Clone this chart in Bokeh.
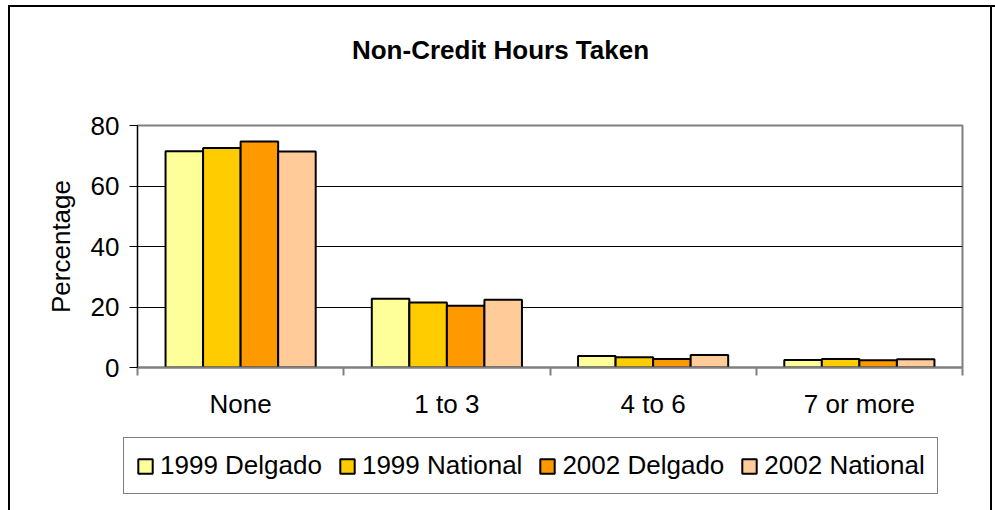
import numpy as np
from bokeh.plotting import figure
from bokeh.layouts import column
from bokeh.models import Range1d, FixedTicker, Legend, LegendItem, Label, ColumnDataSource
from bokeh.transform import dodge
from bokeh.embed import file_html
from bokeh.resources import INLINE

title_text = "Non-Credit Hours Taken"
y_label = "Percentage"
categories = ["None", "1 to 3", "4 to 6", "7 or more"]
series = ["1999 Delgado", "1999 National", "2002 Delgado", "2002 National"]
delgado_1999 = [71.5, 22.7, 3.8, 2.5]
national_1999 = [72.6, 21.5, 3.4, 2.8]
delgado_2002 = [74.7, 20.4, 2.8, 2.4]
national_2002 = [71.4, 22.4, 4.1, 2.7]
colors = ["#FFFF99", "#FFCC00", "#FF9900", "#FFCC99"]
y_ticks = [0, 20, 40, 60, 80]

FONT = "Liberation Sans"
FS = "26px"
W = 995


def blank(h, shadow):
    f = figure(width=W, height=h, x_axis_type=None, y_axis_type=None,
               toolbar_location=None, output_backend="svg", min_border=0,
               x_range=Range1d(0, 1), y_range=Range1d(0, 1))
    f.grid.visible = False
    f.outline_line_color = None
    f.border_fill_color = None
    f.background_fill_color = None
    f.styles = {"box-shadow": shadow}
    return f


SIDE = "inset -3px 0 0 0 #fff, inset -5px 0 0 0 #000"

# ---- title strip ----
pt = blank(75, "inset 8px 5px 0 0 #fff, inset 10px 7px 0 0 #000, " + SIDE)
title_label = Label(x=500, y=26, x_units="screen", y_units="screen", text=title_text,
                    text_font=FONT, text_font_size=FS, text_font_style="bold",
                    text_align="center", text_baseline="alphabetic", text_color="black")
pt.add_layout(title_label)

# ---- main chart ----
centres = np.arange(len(categories)) + 0.5
bounds = list(np.arange(len(categories) + 1).astype(float))
source = ColumnDataSource(dict(
    x=centres,
    d99=delgado_1999, n99=national_1999, d02=delgado_2002, n02=national_2002,
))

p = figure(width=W, height=355, output_backend="svg", toolbar_location=None,
           x_range=Range1d(0, len(categories)), y_range=Range1d(y_ticks[0], y_ticks[-1]),
           min_border_left=137, min_border_right=33, min_border_top=50,
           min_border_bottom=63)
p.border_fill_color = None
p.background_fill_color = "white"
p.styles = {"box-shadow": "inset 8px 0 0 0 #fff, inset 10px 0 0 0 #000, " + SIDE}
p.outline_line_color = "#808080"
p.outline_line_width = 2

bw = 0.182
offsets = [-1.5 * bw, -0.5 * bw, 0.5 * bw, 1.5 * bw]
cols = ["d99", "n99", "d02", "n02"]
for col, off, c in zip(cols, offsets, colors):
    p.vbar(x=dodge("x", off), top=col, width=bw, bottom=0, source=source,
           fill_color=c, line_color="black", line_width=2)

p.xgrid.visible = False
p.ygrid.ticker = FixedTicker(ticks=y_ticks[1:-1])
p.ygrid.grid_line_color = "black"
p.ygrid.grid_line_width = 1

p.yaxis.ticker = FixedTicker(ticks=y_ticks)
p.yaxis.axis_line_color = "black"
p.yaxis.axis_line_width = 1
p.yaxis.major_tick_line_color = "black"
p.yaxis.major_tick_out = 8
p.yaxis.major_tick_in = 0
p.yaxis.minor_tick_line_color = None
p.yaxis.major_label_text_font = FONT
p.yaxis.major_label_text_font_size = FS
p.yaxis.major_label_text_color = "black"
p.yaxis.major_label_standoff = 10
p.yaxis.axis_label = y_label
p.yaxis.axis_label_text_font = FONT
p.yaxis.axis_label_text_font_size = FS
p.yaxis.axis_label_text_font_style = "normal"
p.yaxis.axis_label_text_color = "black"
p.yaxis.axis_label_standoff = 12

p.xaxis.ticker = FixedTicker(ticks=list(centres), minor_ticks=bounds)
p.xaxis.major_label_overrides = {float(c): cat for c, cat in zip(centres, categories)}
p.xaxis.axis_line_color = "#808080"
p.xaxis.axis_line_width = 2
p.xaxis.major_tick_out = 0
p.xaxis.major_tick_in = 0
p.xaxis.major_tick_line_color = None
p.xaxis.minor_tick_line_color = "#808080"
p.xaxis.minor_tick_line_width = 2
p.xaxis.minor_tick_out = 8
p.xaxis.minor_tick_in = 0
p.xaxis.major_label_text_font = FONT
p.xaxis.major_label_text_font_size = FS
p.xaxis.major_label_text_color = "black"
p.xaxis.major_label_standoff = 13

# ---- legend strip (hidden copies of the bar renderers, only the key shows) ----
pl = blank(80, "inset 8px 0 0 0 #fff, inset 10px 0 0 0 #000, " + SIDE)
swatches = []
for col, off, c in zip(cols, offsets, colors):
    r = pl.vbar(x=dodge("x", off), top=col, width=bw, bottom=0, source=source,
                fill_color=c, line_color="black", line_width=2)
    r.visible = False
    swatches.append(r)
legend = Legend(items=[LegendItem(label=s, renderers=[r]) for s, r in zip(series, swatches)],
                orientation="horizontal", location=(123, 16))
legend.label_text_font = FONT
legend.label_text_font_size = FS
legend.label_text_color = "black"
legend.glyph_width = 18
legend.glyph_height = 18
legend.label_standoff = 6
legend.spacing = 16
legend.padding = 12
legend.margin = 0
legend.border_line_color = "black"
legend.border_line_width = 1
legend.background_fill_color = "white"
legend.background_fill_alpha = 1
legend.inactive_fill_alpha = 0
legend.click_policy = "none"
pl.add_layout(legend, "center")

layout = column(column(pt), p, column(pl), spacing=0)
open("out.html", "w").write(file_html(layout, INLINE))
